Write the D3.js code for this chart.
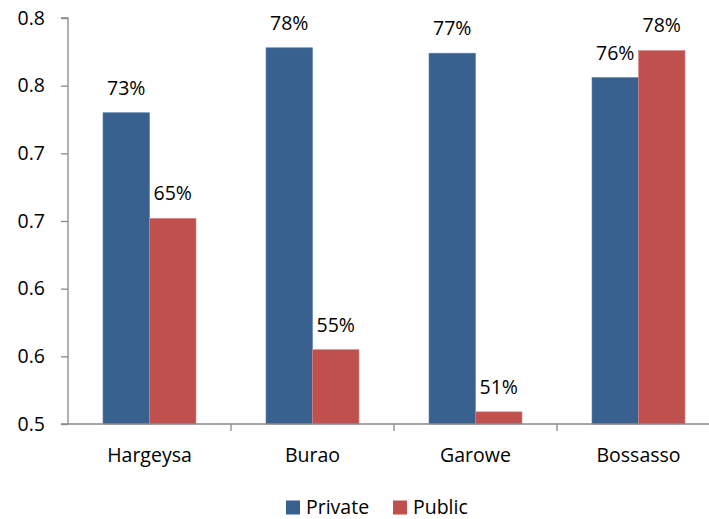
<!DOCTYPE html>
<html><head><meta charset="utf-8">
<script src="https://cdn.jsdelivr.net/npm/d3@7"></script>
<style>body{margin:0;background:#fff}svg{display:block}text{font-family:"Open Sans","Noto Sans",sans-serif;fill:#000}</style>
</head><body><svg id="c" width="709" height="519"></svg>
<script>
const categories = ["Hargeysa", "Burao", "Garowe", "Bossasso"];
const seriesNames = ["Private", "Public"];
const privateVals = [0.73, 0.778, 0.774, 0.756];
const publicVals = [0.652, 0.555, 0.509, 0.776];
const privateLabels = ["73%", "78%", "77%", "76%"];
const publicLabels = ["65%", "55%", "51%", "78%"];
const tickVals = [0.5, 0.55, 0.6, 0.65, 0.7, 0.75, 0.8];
const tickLabels = ["0.5", "0.6", "0.6", "0.7", "0.7", "0.8", "0.8"];
const colors = ["#38618F", "#C0504D"];

const FS = "19.5px";
const svg = d3.select("#c");
const m = {l: 68, t: 18, b: 424};
const bandW = 163;
const x = d3.scaleBand().domain(categories).range([m.l, m.l + bandW * 4]).paddingInner(0).paddingOuter(0);
const y = d3.scaleLinear().domain([0.5, 0.8]).range([m.b, m.t]);
const x1 = d3.scaleBand().domain(seriesNames).range([0, bandW]).paddingInner(0).paddingOuter(0.7527);

// y axis
const ya = svg.append("g").attr("transform", `translate(${m.l},0)`)
  .call(d3.axisLeft(y).tickValues(tickVals).tickFormat((d, i) => tickLabels[i]).tickSize(7).tickPadding(16));
ya.select(".domain").attr("stroke", "#888").attr("stroke-width", 1.3).attr("d", `M-7,${m.t}H0V${m.b}`);
ya.selectAll(".tick line").attr("stroke", "#888").attr("stroke-width", 1.3);
ya.selectAll(".tick text").style("font-size", FS).attr("fill", "#000");

const data = categories.map((c, i) => ({c, vals: [privateVals[i], publicVals[i]], labs: [privateLabels[i], publicLabels[i]]}));
const g = svg.append("g");
data.forEach(d => {
  d.vals.forEach((v, j) => {
    const bx = x(d.c) + x1(seriesNames[j]);
    g.append("rect").attr("x", bx).attr("y", y(v)).attr("width", x1.bandwidth()).attr("height", m.b - y(v))
      .attr("fill", colors[j]).attr("stroke", j === 0 ? "#5A80B0" : "#D98A88").attr("stroke-width", 0.6);
    g.append("text").attr("x", bx + x1.bandwidth() / 2).attr("y", y(v) - 18)
      .attr("text-anchor", "middle").style("font-size", FS).text(d.labs[j]);
  });
});

// x axis
const xa = svg.append("g").attr("transform", `translate(0,${m.b})`)
  .call(d3.axisBottom(x).tickSize(0).tickPadding(24));
xa.select(".domain").attr("stroke", "#888").attr("stroke-width", 1.3).attr("d", `M${m.l - 7},0H${m.l + bandW * 4}`);
xa.selectAll(".tick text").style("font-size", FS).attr("fill", "#000");
categories.slice(1).forEach(c => {
  xa.append("line").attr("x1", x(c)).attr("x2", x(c)).attr("y1", 0).attr("y2", 7).attr("stroke", "#888").attr("stroke-width", 1.3);
});

// legend
const lg = svg.append("g");
const legX = [286, 393];
seriesNames.forEach((s, i) => {
  lg.append("rect").attr("x", legX[i]).attr("y", 500.5).attr("width", 14).attr("height", 14).attr("fill", colors[i]);
  lg.append("text").attr("x", legX[i] + 20).attr("y", 514).style("font-size", FS).text(s);
});
</script></body></html>
